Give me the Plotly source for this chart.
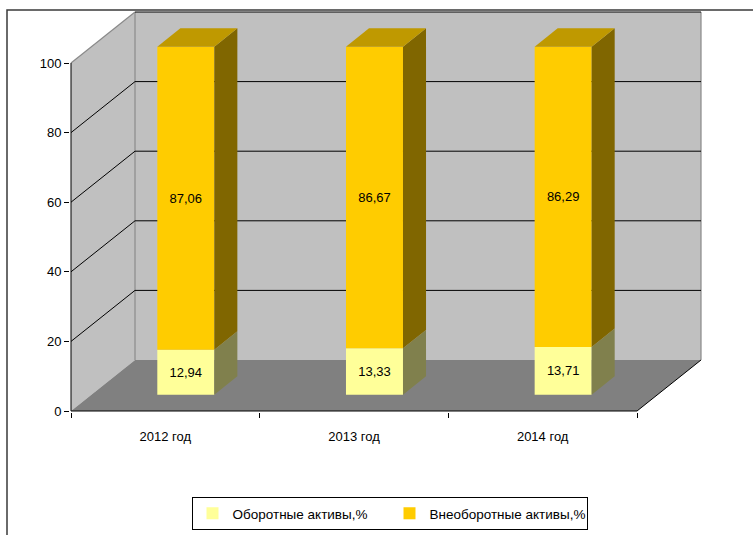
import plotly.graph_objects as go

# ---------------- data ----------------
categories = ["2012 год", "2013 год", "2014 год"]
current_assets = [12.94, 13.33, 13.71]        # Оборотные активы, %
noncurrent_assets = [87.06, 86.67, 86.29]     # Внеоборотные активы, %
series_names = ["Оборотные активы,%", "Внеоборотные активы,%"]
y_ticks = [0, 20, 40, 60, 80, 100]

# ---------------- geometry / style ----------------
W, H = 753, 535
PX_X = 188.67          # pixels per category
PX_Y = 3.48            # pixels per percent
AX_LEFT, AX_BOTTOM = 71, 411
ML, MR, MT, MB = 70, 41, 10, 123
plot_w = W - ML - MR
plot_h = H - MT - MB
x_lo = (ML - AX_LEFT) / PX_X
x_hi = x_lo + plot_w / PX_X
y_lo = (AX_BOTTOM - (H - MB)) / PX_Y
y_hi = y_lo + plot_h / PX_Y

DX = 64 / PX_X         # depth offset of back wall (category units)
DY = 51 / PX_Y         # depth offset of back wall (value units)
F0, F1 = 0.32, 0.68    # bar front/back depth fractions
BW = 57 / PX_X         # bar width
n = len(categories)
YMAX = max(y_ticks)

WALL = "#C0C0C0"
FLOOR = "#808080"
front_cols = ["#FFFF99", "#FFCC00"]
side_cols = ["#80804D", "#806600"]
top_cols = ["#BFBF73", "#BF9900"]
FONT = "Liberation Sans, Arial, sans-serif"

fig = go.Figure()


def poly(xs, ys, fill, xa="x", ya="y"):
    fig.add_trace(go.Scatter(x=xs + [xs[0]], y=ys + [ys[0]], mode="lines", fill="toself",
                             fillcolor=fill, line=dict(width=0), showlegend=False,
                             hoverinfo="skip", xaxis=xa, yaxis=ya))


def lines(segs, color, width=1):
    xs, ys = [], []
    for (a, b), (c, d) in segs:
        xs += [a, c, None]
        ys += [b, d, None]
    fig.add_trace(go.Scatter(x=xs, y=ys, mode="lines", line=dict(color=color, width=width),
                             showlegend=False, hoverinfo="skip"))


# walls and floor
poly([0, 0, DX, DX], [0, YMAX, YMAX + DY, DY], WALL)
poly([DX, n + DX, n + DX, DX], [DY, DY, YMAX + DY, YMAX + DY], WALL)
poly([0, n, n + DX, DX], [0, 0, DY, DY], FLOOR)

# wall borders
lines([((0, YMAX), (DX, YMAX + DY)),
       ((DX, DY), (DX, YMAX + DY)),
       ((n + DX, DY), (n + DX, YMAX + DY))], "#8A8A8A", 1.2)
# gridlines
grid = []
for v in y_ticks[1:]:
    if v < YMAX:
        grid.append(((0, v), (DX, v + DY)))
    grid.append(((DX, v + DY), (n + DX, v + DY)))
lines(grid, "#000000", 1)
# axes & floor edges
lines([((0, 0), (0, YMAX)), ((0, 0), (n, 0)), ((n, 0), (n + DX, DY))], "#000000", 1)

# ---------------- bars (overlay subplot) ----------------
series = [current_assets, noncurrent_assets]
fx = [i + 0.5 + F0 * DX for i in range(n)]
bdx = (F1 - F0) * DX
bdy = (F1 - F0) * DY
bases = [F0 * DY] * n
for s, vals in enumerate(series):
    fig.add_trace(go.Bar(
        x=fx, y=vals, base=bases, width=BW, name=series_names[s],
        marker=dict(color=front_cols[s], line=dict(width=0)),
        text=[f"{v:.2f}".replace(".", ",") for v in vals],
        textposition="inside", insidetextanchor="middle", textangle=0,
        insidetextfont=dict(color="black", size=13, family=FONT),
        xaxis="x2", yaxis="y2", hoverinfo="skip"))
    for i in range(n):
        xr = fx[i] + BW / 2
        xl = fx[i] - BW / 2
        b = bases[i]
        t = b + vals[i]
        poly([xr, xr + bdx, xr + bdx, xr], [b, b + bdy, t + bdy, t], side_cols[s], "x2", "y2")
        if s == len(series) - 1:
            poly([xl, xr, xr + bdx, xl + bdx], [t, t, t + bdy, t + bdy], top_cols[s], "x2", "y2")
    bases = [b + v for b, v in zip(bases, vals)]


# chart outer border (cropped like the original)
def px2paper_x(px):
    return (px - ML) / plot_w


def px2paper_y(py):
    return ((H - MB) - py) / plot_h


fig.add_shape(type="rect", xref="paper", yref="paper",
              x0=px2paper_x(7), x1=px2paper_x(780), y0=px2paper_y(560), y1=px2paper_y(10),
              line=dict(color="#3A3A3A", width=1.5), layer="above")

fig.update_layout(
    width=W, height=H,
    margin=dict(l=ML, r=MR, t=MT, b=MB),
    paper_bgcolor="white", plot_bgcolor="rgba(0,0,0,0)",
    barmode="overlay", hovermode=False,
    font=dict(family=FONT, size=13, color="black"),
    xaxis=dict(range=[x_lo, x_hi], tickmode="array", tickvals=[i + 0.5 for i in range(n)],
               ticktext=categories, ticks="", showgrid=False, zeroline=False, showline=False,
               ticklabelstandoff=15,
               minor=dict(tickmode="array", tickvals=list(range(n + 1)), ticks="outside",
                          ticklen=5, tickcolor="black", tickwidth=1, showgrid=False)),
    yaxis=dict(range=[y_lo, y_hi], tickmode="array", tickvals=y_ticks, ticks="outside",
               ticklen=5, tickcolor="black", showgrid=False, zeroline=False, showline=False),
    xaxis2=dict(range=[x_lo, x_hi], overlaying="x", visible=False),
    yaxis2=dict(range=[y_lo, y_hi], overlaying="y", visible=False),
    showlegend=True,
    legend=dict(orientation="h", xref="container", yref="container",
                x=389.5 / W, xanchor="center", y=1 - 497 / H, yanchor="top",
                bordercolor="black", borderwidth=1, bgcolor="white",
                font=dict(size=13.5, family=FONT), traceorder="normal",
                itemwidth=30, entrywidth=152),
)

fig.write_html("out.html", config={"displayModeBar": False},
               post_script="document.body.style.margin='0';")
